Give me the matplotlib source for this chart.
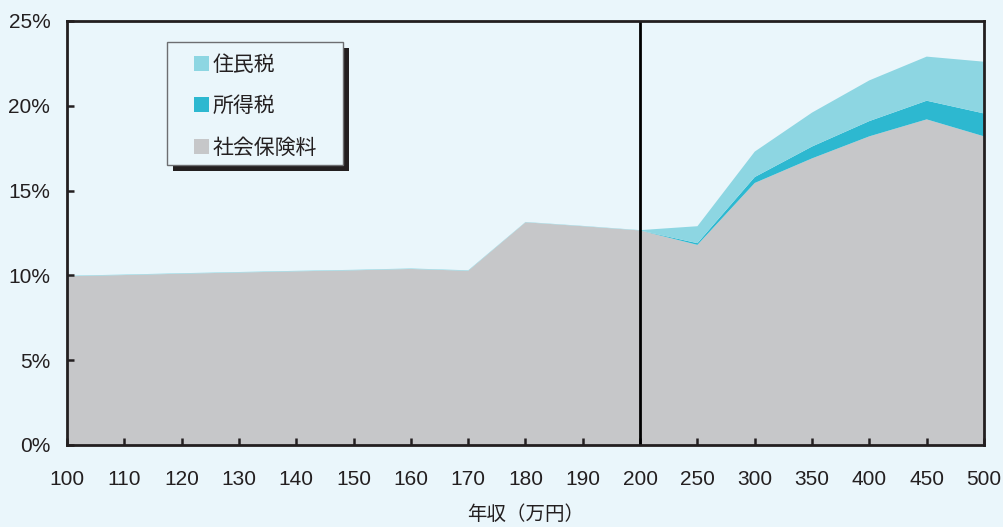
import matplotlib
matplotlib.use("Agg")
import matplotlib.pyplot as plt
from matplotlib.patches import Rectangle
import numpy as np

plt.rcParams['font.family'] = ['Noto Sans CJK JP', 'DejaVu Sans']

# 年収区分（万円）
incomes = ["100", "110", "120", "130", "140", "150", "160", "170", "180", "190",
           "200", "250", "300", "350", "400", "450", "500"]
# 年収に占める割合（%）
social_insurance = [9.95, 10.02, 10.1, 10.17, 10.24, 10.3, 10.38, 10.27, 13.13, 12.9,
                    12.65, 11.8, 15.45, 16.9, 18.2, 19.2, 18.2]
income_tax = [0, 0, 0, 0, 0, 0, 0, 0, 0, 0,
              0, 0.1, 0.35, 0.7, 0.9, 1.1, 1.35]
resident_tax = [0.03, 0.03, 0.03, 0.03, 0.03, 0.03, 0.03, 0.03, 0.02, 0.02,
                0.02, 1.0, 1.5, 2.0, 2.4, 2.6, 3.05]
series_names = ["住民税", "所得税", "社会保険料"]
y_ticks = [0, 5, 10, 15, 20, 25]

bg = "#EAF6FB"
c_res = "#8DD6E2"
c_inc = "#2DB8D0"
c_soc = "#C6C7C9"
ink = "#231F20"

fig = plt.figure(figsize=(10.04, 5.27), dpi=100, facecolor=bg)
ax = fig.add_axes([67/1004, 82/527, (984-67)/1004, (445-21)/527])
ax.set_facecolor(bg)

x = np.arange(len(incomes))
ax.stackplot(x, social_insurance, income_tax, resident_tax,
             colors=[c_soc, c_inc, c_res], linewidth=0)

ax.set_xlim(x[0], x[-1])
ax.set_ylim(0, 25)
ax.set_xticks(x)
ax.set_xticklabels(incomes, family=['Liberation Sans', 'DejaVu Sans'], fontsize=15)
ax.set_yticks(y_ticks)
ax.set_yticklabels([f"{v}%" for v in y_ticks], family=['Liberation Sans', 'DejaVu Sans'],
                   fontsize=15)
ax.tick_params(axis='both', direction='in', length=5, width=1.8, colors=ink,
               labelcolor=ink)
ax.tick_params(axis='x', pad=18)
ax.tick_params(axis='y', pad=12)
for s in ax.spines.values():
    s.set_linewidth(2)
    s.set_color(ink)

ax.axvline(incomes.index("200"), color='black', linewidth=2)

ax.set_xlabel("年収（万円）", fontsize=14, color=ink, labelpad=11)

# 凡例（影付きの枠）
fx = lambda px: px / 1004
fy = lambda py: 1 - py / 527
fig.patches.append(Rectangle((fx(173), fy(171)), fx(349) - fx(173), fy(48) - fy(171),
                             transform=fig.transFigure, facecolor=ink,
                             edgecolor='none', zorder=5))
fig.patches.append(Rectangle((fx(167), fy(165)), fx(343) - fx(167), fy(42) - fy(165),
                             transform=fig.transFigure, facecolor=bg,
                             edgecolor='#6D6E71', linewidth=1, zorder=6))
for name, col, py in zip(series_names, [c_res, c_inc, c_soc], [63, 104, 146]):
    fig.patches.append(Rectangle((fx(194), fy(py + 7.5)), fx(209) - fx(194), fy(py - 7.5) - fy(py + 7.5),
                                 transform=fig.transFigure, facecolor=col,
                                 edgecolor='none', zorder=7))
    fig.text(fx(213), fy(py + 2), name, fontsize=15, color=ink,
             va='center', ha='left', zorder=8)

fig.savefig("out.png", dpi=100, facecolor=bg)
